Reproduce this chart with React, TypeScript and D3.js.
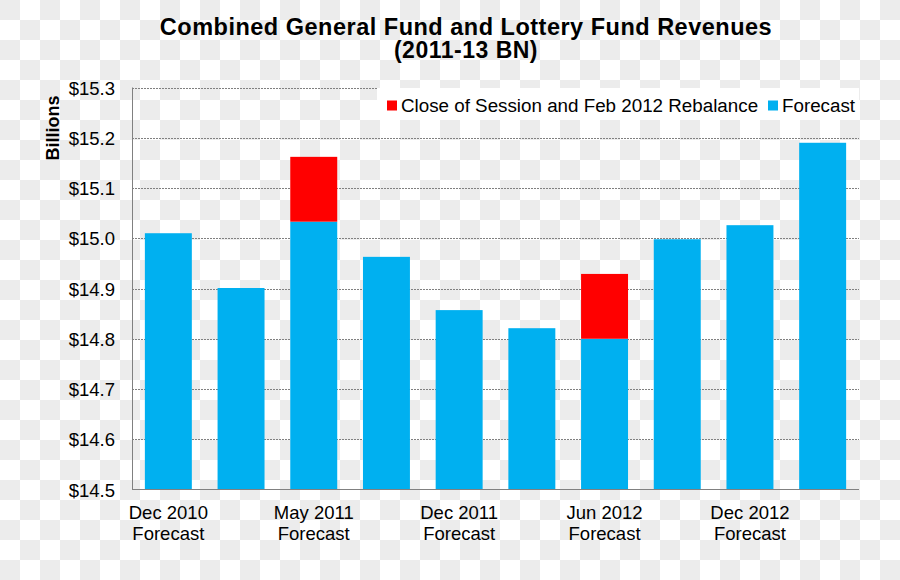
import React from "react";
import * as d3 from "d3";

const categoryLabels: string[][] = [
  ["Dec 2010", "Forecast"],
  [],
  ["May 2011", "Forecast"],
  [],
  ["Dec 2011", "Forecast"],
  [],
  ["Jun 2012", "Forecast"],
  [],
  ["Dec 2012", "Forecast"],
  [],
];
const forecastValues = [15.01, 14.901, 15.033, 14.963, 14.857, 14.821, 14.8, 14.998, 15.026, 15.19];
const rebalanceValues = [0, 0, 0.129, 0, 0, 0, 0.129, 0, 0, 0];
const yTicks = [14.5, 14.6, 14.7, 14.8, 14.9, 15.0, 15.1, 15.2, 15.3];
const seriesNames = ["Close of Session and Feb 2012 Rebalance", "Forecast"];
const titleLines = ["Combined General Fund and Lottery Fund Revenues", "(2011-13 BN)"];

const W = 900;
const H = 580;
const left = 132;
const right = 859;
const top = 87.5;
const bottom = 489.5;
const FONT = "'Liberation Sans', Arial, sans-serif";
const BLUE = "#00B0F0";
const RED = "#FF0000";

export default function App() {
  const idx = forecastValues.map((_, i) => String(i));
  const x = d3.scaleBand<string>().domain(idx).range([left, right]).paddingInner(0.354).paddingOuter(0.177);
  const y = d3.scaleLinear().domain([14.5, 15.3]).range([bottom, top]);
  const fmt = (v: number) => "$" + d3.format(".1f")(v);

  return (
    <svg
      width={W}
      height={H}
      style={{ position: "absolute", left: 0, top: 0 }}
      fontFamily={FONT}
    >
      <defs>
        <pattern id="checker" width="40" height="40" patternUnits="userSpaceOnUse">
          <rect x="0" y="0" width="40" height="40" fill="#ffffff" />
          <rect x="0" y="0" width="20" height="20" fill="#ececec" />
          <rect x="20" y="20" width="20" height="20" fill="#ececec" />
        </pattern>
      </defs>
      <rect x={0} y={0} width={W} height={H} fill="url(#checker)" />

      {/* Title */}
      {titleLines.map((t, i) => (
        <text key={i} x={466} y={35 + i * 23} textAnchor="middle" fontSize={i === 0 ? 23.5 : 23} letterSpacing={0.5} fontWeight="bold" fill="#000">
          {t}
        </text>
      ))}

      {/* Gridlines */}
      {yTicks.slice(1).map((v) => {
        const yy = Math.round(y(v)) + 0.5;
        return (
          <line key={v} x1={left} x2={right} y1={yy} y2={yy} stroke="#808080" strokeWidth={1} strokeDasharray="2,1" />
        );
      })}

      {/* Bars */}
      {forecastValues.map((v, i) => {
        const bx = x(String(i))!;
        const bw = x.bandwidth();
        const r = rebalanceValues[i];
        return (
          <g key={i}>
            <rect x={bx} y={y(v)} width={bw} height={y(14.5) - y(v)} fill={BLUE} />
            {r > 0 && <rect x={bx} y={y(v + r)} width={bw} height={y(v) - y(v + r)} fill={RED} />}
          </g>
        );
      })}

      {/* Axes */}
      <line x1={left + 0.5} x2={left + 0.5} y1={top} y2={bottom} stroke="#808080" strokeWidth={1} />
      <line x1={left} x2={right} y1={Math.round(bottom) - 0.5} y2={Math.round(bottom) - 0.5} stroke="#808080" strokeWidth={1} />

      {/* Y tick labels */}
      {yTicks.map((v) => (
        <text key={v} x={115} y={y(v) + 7} textAnchor="end" fontSize={18.5} fill="#000">
          {fmt(v)}
        </text>
      ))}

      {/* Y axis title */}
      <text transform="translate(59,128) rotate(-90)" textAnchor="middle" fontSize={18} fontWeight="bold" fill="#000">
        Billions
      </text>

      {/* X labels */}
      {categoryLabels.map((lines, i) => {
        const cx = x(String(i))! + x.bandwidth() / 2;
        return lines.map((l, j) => (
          <text key={i + "-" + j} x={cx} y={519 + j * 21} textAnchor="middle" fontSize={18.5} fill="#000">
            {l}
          </text>
        ));
      })}

      {/* Legend */}
      <rect x={377} y={88} width={482} height={32} fill="#ffffff" />
      <rect x={387} y={100.5} width={10} height={10} fill={RED} />
      <text x={401} y={111.5} fontSize={18.8} fill="#000">
        {seriesNames[0]}
      </text>
      <rect x={768} y={100.5} width={10} height={10} fill={BLUE} />
      <text x={782} y={111.5} fontSize={18.8} fill="#000">
        {seriesNames[1]}
      </text>
    </svg>
  );
}
